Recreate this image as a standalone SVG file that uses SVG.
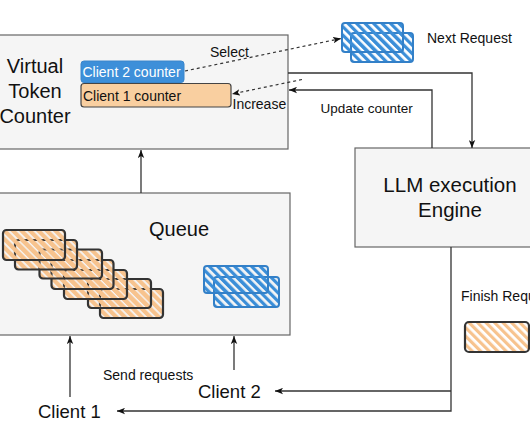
<svg xmlns="http://www.w3.org/2000/svg" width="530" height="442" viewBox="0 0 530 442">
<style>
  .box { fill: #f5f5f5; stroke: #666666; stroke-width: 1.2; }
  .t { font-family: "Liberation Sans", Arial, sans-serif; fill: #111111; }
  .conn { fill: none; stroke: #333333; stroke-width: 1.3; }
  .dot { fill: none; stroke: #333333; stroke-width: 1.2; stroke-dasharray: 3 3; }
  .hb { fill: url(#hatchBlue); stroke: #3380c8; stroke-width: 2; }
  .ho { fill: url(#hatchOrange); stroke: #333333; stroke-width: 2.2; }
  .hf { fill: url(#hatchOrangeLight); stroke: #333333; stroke-width: 2.2; }
</style>
<defs>
  <marker id="arr" viewBox="0 0 10 8" refX="10" refY="4" markerWidth="8" markerHeight="7" orient="auto" markerUnits="userSpaceOnUse">
    <path d="M0,0 L10,4 L0,8 L2.5,4 z" fill="#111111"/>
  </marker>
  <pattern id="hatchBlue" patternUnits="userSpaceOnUse" width="6" height="6" patternTransform="rotate(-45)">
    <rect x="0" y="0" width="3.2" height="6" fill="#3b8ed8"/>
  </pattern>
  <pattern id="hatchOrange" patternUnits="userSpaceOnUse" width="6" height="6" patternTransform="rotate(-45)">
    <rect x="0" y="0" width="4.2" height="6" fill="#f7c38e"/>
  </pattern>
  <pattern id="hatchOrangeLight" patternUnits="userSpaceOnUse" width="6" height="6" patternTransform="rotate(-45)">
    <rect x="0" y="0" width="3.2" height="6" fill="#f7c38e"/>
  </pattern>
</defs>
<rect x="0" y="0" width="530" height="442" fill="#ffffff"/>

<g id="virtual-token-counter">
  <rect class="box" x="-10" y="35" width="298" height="114"/>
  <text class="t" font-size="20" text-anchor="middle" x="35" y="73">Virtual</text>
  <text class="t" font-size="20" text-anchor="middle" x="35" y="98">Token</text>
  <text class="t" font-size="20" text-anchor="middle" x="35" y="123">Counter</text>
</g>

<g id="client2-counter">
  <rect x="81" y="61" width="103" height="21.5" rx="3" fill="#3d8fd9" stroke="#3a86cc" stroke-width="1"/>
  <text class="t" font-size="14" x="82.5" y="76.5" fill="#ffffff" style="fill:#ffffff">Client 2 counter</text>
</g>

<g id="client1-counter">
  <rect x="81" y="83.5" width="150" height="23.5" rx="3" fill="#f9cfa0" stroke="#444444" stroke-width="1.2"/>
  <text class="t" font-size="14" x="83" y="100.5">Client 1 counter</text>
</g>

<g id="next-request">
  <rect class="hb" x="351" y="33" width="62" height="29" rx="3"/>
  <rect class="hb" x="342" y="23" width="61" height="29" rx="3"/>
  <text class="t" font-size="14" x="427" y="43">Next Request</text>
</g>

<g id="llm-engine">
  <rect class="box" x="355" y="148" width="190" height="99"/>
  <text class="t" font-size="20.5" text-anchor="middle" x="450" y="192">LLM execution</text>
  <text class="t" font-size="20.5" text-anchor="middle" x="450" y="217">Engine</text>
</g>

<g id="queue">
  <rect class="box" x="-10" y="193" width="300" height="142"/>
  <text class="t" font-size="20" text-anchor="middle" x="179" y="236">Queue</text>
  <rect class="ho" x="100" y="289" width="63" height="29" rx="3.5"/>
  <rect class="ho" x="88" y="279" width="63" height="29" rx="3.5"/>
  <rect class="ho" x="64" y="270" width="63" height="29" rx="3.5"/>
  <rect class="ho" x="51.5" y="260" width="62" height="29" rx="3.5"/>
  <rect class="ho" x="39.5" y="249.5" width="62.5" height="29" rx="3.5"/>
  <rect class="ho" x="15" y="240" width="62" height="29.5" rx="3.5"/>
  <rect class="ho" x="3" y="230" width="62" height="30" rx="3.5"/>
  <rect class="hb" x="214" y="277" width="65" height="30" rx="3"/>
  <rect class="hb" x="204" y="266" width="64" height="27" rx="3"/>
</g>

<g id="finish-request">
  <text class="t" font-size="14" x="461" y="301">Finish Request</text>
  <rect class="hf" x="465" y="322" width="64" height="30" rx="4"/>
</g>

<g id="client1">
  <text class="t" font-size="18.5" x="38" y="418">Client 1</text>
</g>
<g id="client2">
  <text class="t" font-size="18.5" x="198" y="398">Client 2</text>
</g>

<g id="connectors">
  <path class="conn" d="M288,73 H472 V148" marker-end="url(#arr)"/>
  <path class="conn" d="M432,148 V90 H289" marker-end="url(#arr)"/>
  <path class="conn" d="M141,193 V150" marker-end="url(#arr)"/>
  <path class="dot" d="M185,71 L341,38.5" marker-end="url(#arr)"/>
  <path class="dot" d="M302,79.5 L232,94" marker-end="url(#arr)"/>
  <path class="conn" d="M70,397 V336" marker-end="url(#arr)"/>
  <path class="conn" d="M234,370 V336" marker-end="url(#arr)"/>
  <path class="conn" d="M451,247 V411 H117" marker-end="url(#arr)"/>
  <path class="conn" d="M451,391 H275" marker-end="url(#arr)"/>
  <text class="t" font-size="14" x="210" y="57">Select</text>
  <text class="t" font-size="14" x="232.5" y="108.5">Increase</text>
  <text class="t" font-size="13.5" x="320.5" y="113">Update counter</text>
  <text class="t" font-size="14" x="103" y="380">Send requests</text>
</g>
</svg>
